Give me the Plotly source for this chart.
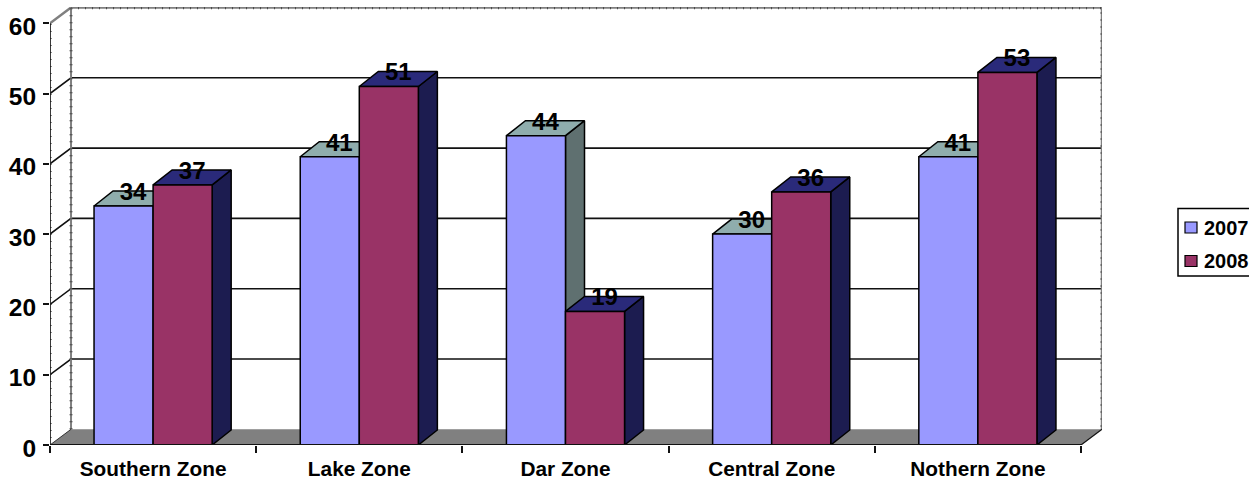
import plotly.graph_objects as go

categories = ["Southern Zone", "Lake Zone", "Dar Zone", "Central Zone", "Nothern Zone"]
values_2007 = [34, 41, 44, 30, 41]
values_2008 = [37, 51, 19, 36, 53]
y_ticks = [0, 10, 20, 30, 40, 50, 60]

WIDTH, HEIGHT = 1249, 482
LEFT, RIGHT, TOP, BOTTOM = 50, 147, 7, 37
PX_X = 206.0
PX_Y = 7.03
WALL_DX, WALL_DY = 21 / PX_X, 15.7 / PX_Y
BAR_DX, BAR_DY = 19 / PX_X, 15 / PX_Y
BAR_W = 59 / PX_X
FONT = "Liberation Sans"

positions = list(range(len(categories)))
x_low, x_high = -0.5, len(categories) - 0.5
y_top = y_ticks[-1]


def line(xs, ys, color, width, z=0, dash="solid"):
    return go.Scatter(x=xs, y=ys, mode="lines", line=dict(color=color, width=width, dash=dash),
                      hoverinfo="skip", showlegend=False, cliponaxis=False, zorder=z)


def faces(xs, ys, fill, z):
    # One trace holding a set of closed polygons, separated by gaps
    return go.Scatter(x=xs, y=ys, mode="lines", fill="toself", fillcolor=fill,
                      line=dict(color="black", width=1.5), hoverinfo="skip",
                      showlegend=False, cliponaxis=False, zorder=z)


def side_and_top(centres, values, side_fill, top_fill, z):
    sx, sy, tx, ty = [], [], [], []
    for c, v in zip(centres, values):
        l, r = c - BAR_W / 2, c + BAR_W / 2
        sx += [r, r + BAR_DX, r + BAR_DX, r, r, None]
        sy += [0, BAR_DY, v + BAR_DY, v, 0, None]
        tx += [l, l + BAR_DX, r + BAR_DX, r, l, None]
        ty += [v, v + BAR_DY, v + BAR_DY, v, v, None]
    return [faces(sx, sy, side_fill, z), faces(tx, ty, top_fill, z)]


fig = go.Figure()

# Floor of the chart box
fig.add_trace(go.Scatter(
    x=[x_low, x_low + WALL_DX, x_high + WALL_DX, x_high, x_low],
    y=[0, WALL_DY, WALL_DY, 0, 0],
    mode="lines", fill="toself", fillcolor="#808080", line=dict(width=0),
    hoverinfo="skip", showlegend=False, cliponaxis=False, zorder=0))

# Gridlines wrapping from the front axis onto the back wall
for v in y_ticks[1:-1]:
    fig.add_trace(line([x_low, x_low + WALL_DX, x_high + WALL_DX],
                       [v, v + WALL_DY, v + WALL_DY], "#111111", 1.6))

# Back wall outline, with the small notches along its edges
wall_x = [x_low, x_low + WALL_DX, x_high + WALL_DX, x_high + WALL_DX]
wall_y = [y_top, y_top + WALL_DY, y_top + WALL_DY, WALL_DY]
fig.add_trace(line(wall_x, wall_y, "#808080", 2.5))
fig.add_trace(line(wall_x[1:], wall_y[1:], "#4a4a4a", 3.5, dash="1px,6px"))
back_x = [x_low + WALL_DX, x_low + WALL_DX]
back_y = [WALL_DY, y_top + WALL_DY]
fig.add_trace(line(back_x, back_y, "#808080", 2))
fig.add_trace(line(back_x, back_y, "#4a4a4a", 3, dash="1px,6px"))
fig.add_trace(line([x_low, x_low + WALL_DX], [0, WALL_DY], "#333333", 1))

# Front axes
fig.add_trace(line([x_low, x_low], [0, y_top], "#222222", 1.8))
fig.add_trace(line([x_low, x_low], [0, y_top], "#222222", 3, dash="1px,6px"))
fig.add_trace(line([x_low, x_high], [0, 0], "#111111", 1.8, z=5))
fig.add_trace(line([x_high, x_high + WALL_DX], [0, WALL_DY], "#111111", 1.2, z=0))

# 2007 columns
left_centres = [p - BAR_W / 2 for p in positions]
right_centres = [p + BAR_W / 2 for p in positions]
for t in side_and_top(left_centres, values_2007, "#5F7070", "#8FADAD", 1):
    fig.add_trace(t)
fig.add_trace(go.Bar(x=left_centres, y=values_2007, width=BAR_W, name="2007",
                     marker=dict(color="#9999FF", line=dict(color="black", width=1.5)),
                     showlegend=False, zorder=2))

# 2008 columns
for t in side_and_top(right_centres, values_2008, "#1C1C50", "#2A2A7A", 3):
    fig.add_trace(t)
fig.add_trace(go.Bar(x=right_centres, y=values_2008, width=BAR_W, name="2008",
                     marker=dict(color="#993366", line=dict(color="black", width=1.5)),
                     showlegend=False, zorder=4))

# Value labels above the column tops
for centres, values in ((left_centres, values_2007), (right_centres, values_2008)):
    fig.add_trace(go.Scatter(
        x=[c + BAR_DX / 2 for c in centres],
        y=[v + BAR_DY / 2 + 0.65 for v in values],
        mode="text", text=[f"<b>{v}</b>" for v in values], textposition="middle center",
        textfont=dict(family=FONT, size=24, color="black"),
        hoverinfo="skip", showlegend=False, cliponaxis=False, zorder=6))

fig.update_layout(
    width=WIDTH, height=HEIGHT, autosize=False, barmode="overlay",
    margin=dict(l=LEFT, r=RIGHT, t=TOP, b=BOTTOM, autoexpand=False),
    paper_bgcolor="white", plot_bgcolor="white", showlegend=False,
    font=dict(family=FONT, color="black"),
    xaxis=dict(range=[x_low, x_high + WALL_DX], tickmode="array", tickvals=positions,
               ticktext=[f"<b>{c}</b>" for c in categories], ticks="", showgrid=False,
               showline=False, zeroline=False, tickfont=dict(family=FONT, size=20.8),
               ticklabelstandoff=9,
               minor=dict(tickmode="array", tickvals=[p - 0.5 for p in positions] + [x_high],
                          ticks="outside", ticklen=7, tickwidth=1.5, tickcolor="#111111",
                          showgrid=False)),
    yaxis=dict(range=[0, (HEIGHT - TOP - BOTTOM) / PX_Y], tickmode="array", tickvals=y_ticks,
               ticktext=[f"<b>{v}</b>" for v in y_ticks], ticks="outside", ticklen=6,
               tickwidth=1.5, tickcolor="#111111", showgrid=False, showline=False,
               zeroline=False, tickfont=dict(family=FONT, size=24.5), ticklabelstandoff=2,
               ticklabelshift=3),
)


def px(x):
    return (x - LEFT) / (WIDTH - LEFT - RIGHT)


def py(y):
    return 1 - (y - TOP) / (HEIGHT - TOP - BOTTOM)


# Legend box with its two swatches and labels
shapes = [dict(type="rect", xref="paper", yref="paper", x0=px(1178), x1=px(1262),
               y0=py(276), y1=py(208.5), line=dict(color="black", width=1.5),
               fillcolor="white")]
annotations = []
for name, colour, cy in (("2007", "#9999FF", 227.5), ("2008", "#993366", 261)):
    shapes.append(dict(type="rect", xref="paper", yref="paper", x0=px(1185), x1=px(1197),
                       y0=py(cy + 5.5), y1=py(cy - 5.5),
                       line=dict(color="black", width=1.2), fillcolor=colour))
    annotations.append(dict(xref="paper", yref="paper", x=px(1201.5), y=py(cy),
                            xanchor="left", yanchor="middle", showarrow=False,
                            text=f"<b>{name}</b>",
                            font=dict(family=FONT, size=20, color="black")))
fig.update_layout(shapes=shapes, annotations=annotations)

fig.write_html("out.html")
